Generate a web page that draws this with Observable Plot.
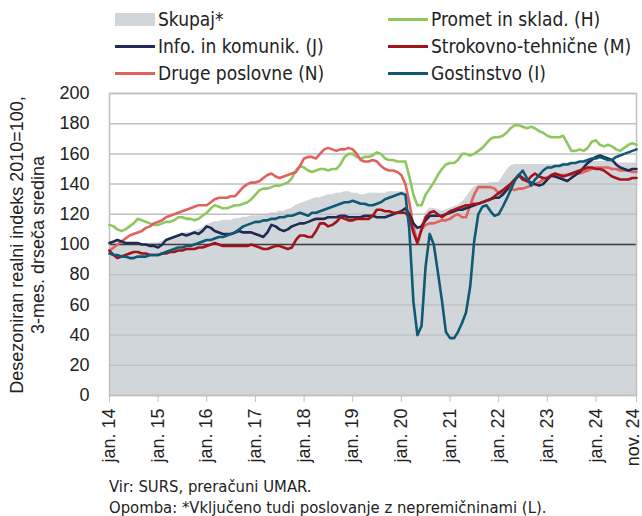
<!DOCTYPE html>
<html><head><meta charset="utf-8">
<script src="https://cdn.jsdelivr.net/npm/d3@7"></script>
<script src="https://cdn.jsdelivr.net/npm/@observablehq/plot@0.6"></script>
<style>
body{margin:0;background:#fff;}
#wrap{position:relative;width:642px;height:516px;overflow:hidden;font-family:"Liberation Sans",Arial,sans-serif;color:#222;}
.leg{position:absolute;font-family:"Liberation Sans Narrow","Arial Narrow","DejaVu Sans Condensed",sans-serif;font-size:19px;display:flex;align-items:center;white-space:nowrap;height:24px;line-height:24px;transform:translateY(-50%);}
.sw{width:40px;height:3px;margin-right:3px;}
.box{width:40px;height:13px;margin-right:3px;}
#chart{position:absolute;left:0;top:80px;}
.note{position:absolute;left:109px;font-family:"Liberation Sans Narrow","Arial Narrow","DejaVu Sans Condensed",sans-serif;font-size:16.5px;white-space:nowrap;transform:translateY(-50%);}
.yt{position:absolute;white-space:nowrap;font-size:18px;transform:translate(-50%,-50%) rotate(-90deg);}
</style>
</head><body>
<div id="wrap"></div>
<script>
// ---- data (monthly, jan 2014 – nov 2024) ----
const skupaj = [
101,101,101,101,100,100,100,100,100,100,101,101,
101,102,103,104,105,106,107,108,108,109,110,111,
113,114,115,115,116,116,116,117,117,118,118,119,
119,119,119,120,121,121,122,122,123,124,126,127,
128,129,130,131,131,132,133,133,134,134,135,135,
134,134,133,133,134,134,134,134,134,135,135,135,
135,135,128,115,110,114,121,124,124,123,122,123,
124,125,126,128,131,135,138,139,140,140,141,141,
141,145,149,152,153,153,153,153,153,153,153,153,
153,153,153,153,154,154,154,154,154,154,155,155,
155,155,155,155,155,154,154,154,154,154,154];
const promet = [
113,112,110,109,110,112,114,117,116,115,114,113,
113,114,115,115,116,118,118,117,117,116,117,119,
121,124,126,125,124,124,125,126,126,127,128,130,
133,136,137,137,138,139,139,140,141,144,149,152,
151,149,148,149,150,150,149,150,150,153,158,160,
160,158,157,158,158,159,161,160,157,156,156,155,
155,155,145,133,126,126,133,137,141,146,150,153,
154,154,156,160,160,159,160,162,164,167,170,171,
171,172,174,177,179,179,178,177,178,177,175,174,
172,171,171,171,172,167,162,162,163,162,164,168,
169,166,165,166,165,163,162,164,166,167,166];
const info = [
101,102,103,102,101,101,101,101,100,100,99,99,
98,100,103,104,105,106,107,106,107,108,107,109,
112,111,109,108,107,107,107,108,109,108,108,108,
107,106,105,108,113,112,110,109,110,112,113,114,
114,115,116,117,117,117,118,118,118,119,119,118,
118,118,118,119,119,119,118,118,118,119,120,121,
122,124,120,114,111,112,116,119,119,119,119,120,
121,122,123,123,124,125,126,127,128,129,130,131,
131,133,136,140,143,146,144,142,141,140,139,140,
143,146,145,144,143,142,144,146,148,151,154,156,
158,159,158,157,156,153,151,150,149,150,150];
const strokovno = [
96,93,91,92,93,94,95,95,94,94,93,93,
93,94,94,95,95,96,96,97,97,97,98,98,
99,100,101,100,99,99,99,99,99,99,99,100,
99,98,97,97,98,99,99,98,97,98,103,106,
106,105,105,109,114,114,112,113,115,118,117,116,
116,117,117,117,117,119,123,123,122,122,121,121,
121,121,118,108,101,110,118,121,122,120,118,120,
122,123,124,125,126,126,127,127,128,129,130,132,
134,136,138,140,143,146,143,142,145,147,145,144,
144,146,147,146,145,146,147,148,149,150,151,151,
150,150,149,147,145,144,143,143,143,144,144];
const druge = [
96,98,100,102,104,106,107,108,109,111,112,114,
115,116,118,119,120,121,122,123,124,125,126,126,
126,128,130,131,131,131,132,132,135,138,140,141,
141,142,144,146,147,145,144,145,146,147,148,152,
157,158,158,157,160,163,164,163,162,163,163,164,
163,160,156,155,155,156,155,152,150,149,149,148,
146,140,128,112,101,110,113,114,114,115,116,116,
117,119,120,118,118,126,133,138,138,138,138,137,
134,134,136,137,136,137,137,138,139,140,141,143,
144,145,145,146,146,146,146,147,147,148,149,150,
151,151,151,151,150,150,149,149,149,148,148];
const gostinstvo = [
94,93,93,92,92,91,91,92,92,92,93,93,
93,94,95,96,97,98,98,99,99,100,101,102,
103,103,104,105,105,106,107,108,110,112,113,114,
115,115,116,116,117,117,118,118,119,119,120,121,
120,119,121,121,122,123,124,125,126,127,128,128,
129,128,127,127,126,126,127,128,130,131,132,133,
134,133,110,62,40,46,85,107,100,82,63,42,
38,38,42,48,55,72,102,120,125,126,122,119,
120,125,130,136,142,146,149,144,139,143,146,149,
151,151,152,152,153,153,154,154,155,155,156,157,
157,158,157,156,156,158,159,160,161,162,163];

const seriesNames = ["Skupaj*","Promet in sklad. (H)","Info. in komunik. (J)","Strokovno-tehnične (M)","Druge poslovne (N)","Gostinstvo (I)"];
const tickDates = ["2014-01","2015-01","2016-01","2017-01","2018-01","2019-01","2020-01","2021-01","2022-01","2023-01","2024-01","2024-11"];
const tickLabels = ["jan. 14","jan. 15","jan. 16","jan. 17","jan. 18","jan. 19","jan. 20","jan. 21","jan. 22","jan. 23","jan. 24","nov. 24"];
const yTicks = [0,20,40,60,80,100,120,140,160,180,200];

const colors = {
  "Skupaj*":"#d1d6da",
  "Promet in sklad. (H)":"#8dc85f",
  "Info. in komunik. (J)":"#1f2b55",
  "Strokovno-tehnične (M)":"#a3131c",
  "Druge poslovne (N)":"#e2615f",
  "Gostinstvo (I)":"#0e5a75"
};

const dates = d3.utcMonth.range(new Date(Date.UTC(2014,0,1)), new Date(Date.UTC(2024,11,1)));
const lineSeries = [
  [seriesNames[1], promet],
  [seriesNames[4], druge],
  [seriesNames[2], info],
  [seriesNames[3], strokovno],
  [seriesNames[5], gostinstvo]
];
const rows = lineSeries.flatMap(([name, vals]) => vals.map((v,i)=>({date:dates[i], value:v, series:name})));
const areaRows = skupaj.map((v,i)=>({date:dates[i], value:v}));
const tickDateObjs = tickDates.map(s => new Date(s + "-01T00:00:00Z"));
const labelMap = new Map(tickDateObjs.map((d,i)=>[+d, tickLabels[i]]));
const mainTicks = tickDateObjs.slice(0, -1);
const lastTick = tickDateObjs.slice(-1);

const chart = Plot.plot({
  width: 642,
  height: 390,
  marginTop: 13,
  marginLeft: 109,
  marginRight: 6,
  marginBottom: 75,
  style: {fontFamily: "'Liberation Sans', Arial, sans-serif", fontSize: "18px", color: "#222", background: "transparent"},
  x: {type: "utc", domain: [dates[0], dates[dates.length-1]]},
  y: {domain: [0, 200]},
  marks: [
    Plot.areaY(areaRows, {x: "date", y: "value", fill: colors["Skupaj*"]}),
    Plot.ruleY(yTicks, {stroke: "#c0c0c0", strokeWidth: 1.5}),
    Plot.ruleY([100], {stroke: "#3f3f3f", strokeWidth: 1.5}),
    Plot.frame({stroke: "#c0c0c0", strokeWidth: 1.5}),
    Plot.lineY(rows, {x: "date", y: "value", z: "series", stroke: d => colors[d.series], strokeWidth: 2.6, strokeLinejoin: "round"}),
    Plot.axisY(yTicks, {tickSize: 0, tickPadding: 20, label: null, fontSize: 18}),
    Plot.axisX(mainTicks, {tickSize: 7, tickRotate: -90, tickPadding: 6, tickFormat: d => labelMap.get(+d), label: null, stroke: "#c0c0c0", fontSize: 18}),
    Plot.axisX(lastTick, {tickSize: 7, stroke: "#c0c0c0", text: null, label: null}),
    Plot.axisX(lastTick, {tickSize: 0, tickRotate: -90, tickPadding: 13, tickFormat: d => labelMap.get(+d), label: null, dx: -3, fontSize: 18})
  ]
});
const wrap = document.getElementById("wrap");
chart.id = "chart";
wrap.appendChild(chart);

// legend
const legendItems = [
  {name: seriesNames[0], x: 115, y: 19, box: true},
  {name: seriesNames[1], x: 388, y: 19},
  {name: seriesNames[2], x: 115, y: 46},
  {name: seriesNames[3], x: 388, y: 46},
  {name: seriesNames[4], x: 115, y: 73},
  {name: seriesNames[5], x: 388, y: 73}
];
for (const it of legendItems) {
  const el = document.createElement("div");
  el.className = "leg";
  el.style.left = it.x + "px";
  el.style.top = it.y + "px";
  const sw = document.createElement("span");
  sw.className = it.box ? "box" : "sw";
  sw.style.background = colors[it.name];
  el.appendChild(sw);
  el.appendChild(document.createTextNode(it.name));
  wrap.appendChild(el);
}
// y title
const yt = [["Desezoniran realni indeks 2010=100,", 17], ["3-mes. drseča sredina", 38]];
for (const [t, x] of yt) {
  const el = document.createElement("div");
  el.className = "yt"; el.textContent = t;
  el.style.left = x + "px"; el.style.top = "245px";
  wrap.appendChild(el);
}
// notes
const notes = [["Vir: SURS, preračuni UMAR.", 486], ["Opomba: *Vključeno tudi poslovanje z nepremičninami (L).", 507]];
for (const [t, y] of notes) {
  const el = document.createElement("div");
  el.className = "note"; el.textContent = t; el.style.top = y + "px";
  wrap.appendChild(el);
}
</script>
</body></html>
